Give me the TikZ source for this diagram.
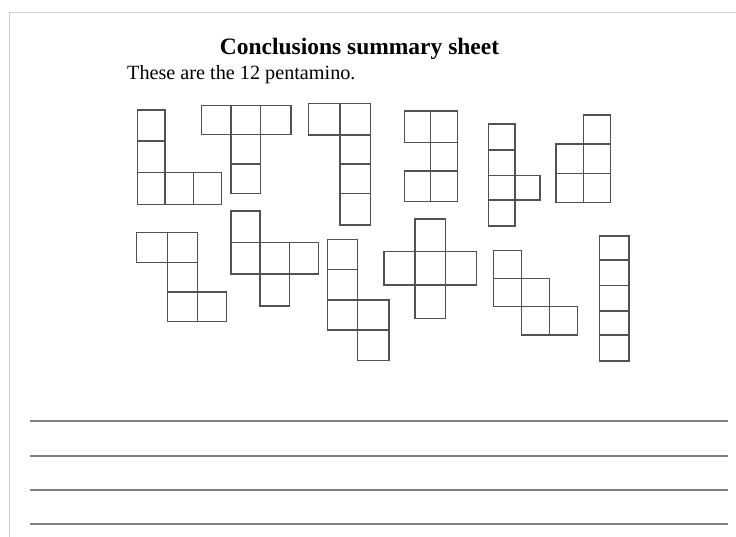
\documentclass[tikz,border=0pt]{standalone}
\usepackage{fontspec}
\setmainfont{Liberation Serif}
\newcommand\pcell[4]{\draw[pento] (#1,#2) rectangle (#3,#4);}
\begin{document}
\begin{tikzpicture}[x=1pt,y=-1pt,
  pento/.style={draw=black!68, line width=1.1pt},
  rule/.style={draw=black!50, line width=1.6pt},
  frame/.style={draw=black!18, line width=1pt},
  title/.style={font=\fontsize{23.5}{26}\selectfont\bfseries, inner sep=0pt, anchor=base},
  sub/.style={font=\fontsize{20.2}{23}\selectfont, inner sep=0pt, anchor=base west}]
\fill[white] (0,0) rectangle (736,537);
\useasboundingbox (0,0) rectangle (736,537);
% page frame
\draw[frame] (9,537) -- (9,13) -- (736,13);
% texts
\node[title] (ttl) at (359.5,55) {Conclusions summary sheet};
\node[sub] (sub) at (127,80) {These are the 12 pentamino.};
% A (L)
\pcell{137.3}{110}{165}{141}
\pcell{137.3}{141}{165}{172.7}
\pcell{137.3}{172.7}{165}{204.3}
\pcell{165}{172.7}{193.3}{204.3}
\pcell{193.3}{172.7}{221.7}{204.3}
% B (T)
\pcell{201.3}{105.7}{231}{134.7}
\pcell{231}{105.7}{260.7}{134.7}
\pcell{260.7}{105.7}{291}{134.7}
\pcell{231}{134.7}{260.7}{164}
\pcell{231}{164}{260.7}{193.3}
% C
\pcell{308.3}{103.3}{340}{135}
\pcell{340}{103.3}{370.3}{135}
\pcell{340}{135}{370.3}{164}
\pcell{340}{164}{370.3}{193.7}
\pcell{340}{193.7}{370.3}{225}
% D (U)
\pcell{404.3}{111}{430.7}{142.7}
\pcell{430.7}{111}{457.7}{142.7}
\pcell{430.7}{142.7}{457.7}{171}
\pcell{404.3}{171}{430.7}{201.7}
\pcell{430.7}{171}{457.7}{201.7}
% E (Y)
\pcell{488.3}{124}{515}{150}
\pcell{488.3}{150}{515}{175.7}
\pcell{488.3}{175.7}{515}{200}
\pcell{515}{175.7}{540}{200}
\pcell{488.3}{200}{515}{226}
% F (P)
\pcell{583.3}{115}{610.7}{144}
\pcell{556}{144}{583.3}{173.3}
\pcell{583.3}{144}{610.7}{173.3}
\pcell{556}{173.3}{583.3}{202.7}
\pcell{583.3}{173.3}{610.7}{202.7}
% G (Z)
\pcell{136.7}{232.7}{167.3}{262.3}
\pcell{167.3}{232.7}{197.7}{262.3}
\pcell{167.3}{262.3}{197.7}{292}
\pcell{167.3}{292}{197.7}{321.7}
\pcell{197.7}{292}{226.7}{321.7}
% H (F)
\pcell{231}{211}{260}{242.3}
\pcell{231}{242.3}{260}{274}
\pcell{260}{242.3}{289.3}{274}
\pcell{289.3}{242.3}{318.3}{274}
\pcell{260}{274}{289.3}{306}
% I (N)
\pcell{327.3}{239.3}{357.7}{269.3}
\pcell{327.3}{269.3}{357.7}{300}
\pcell{327.3}{300}{357.7}{330}
\pcell{357.7}{300}{389}{330}
\pcell{357.7}{330}{389}{360.7}
% J (X)
\pcell{415}{219}{445.3}{251.7}
\pcell{384}{251.7}{415}{285}
\pcell{415}{251.7}{445.3}{285}
\pcell{445.3}{251.7}{476.7}{285}
\pcell{415}{285}{445.3}{318.3}
% K (W)
\pcell{493.3}{250.7}{521.3}{278.3}
\pcell{493.3}{278.3}{521.3}{306.7}
\pcell{521.3}{278.3}{549.3}{306.7}
\pcell{521.3}{306.7}{549.3}{335}
\pcell{549.3}{306.7}{577.3}{335}
% L (I)
\pcell{599.3}{236}{629}{260}
\pcell{599.3}{260}{629}{285.7}
\pcell{599.3}{285.7}{629}{311}
\pcell{599.3}{311}{629}{335}
\pcell{599.3}{335}{629}{361}
% writing lines
\coordinate (l1a) at (30,421); \coordinate (l1b) at (728,421);
\coordinate (l2a) at (30,456); \coordinate (l2b) at (728,456);
\coordinate (l3a) at (30,490); \coordinate (l3b) at (728,490);
\coordinate (l4a) at (30,524); \coordinate (l4b) at (728,524);
\draw[rule] (l1a) -- (l1b);
\draw[rule] (l2a) -- (l2b);
\draw[rule] (l3a) -- (l3b);
\draw[rule] (l4a) -- (l4b);
\end{tikzpicture}
\end{document}
